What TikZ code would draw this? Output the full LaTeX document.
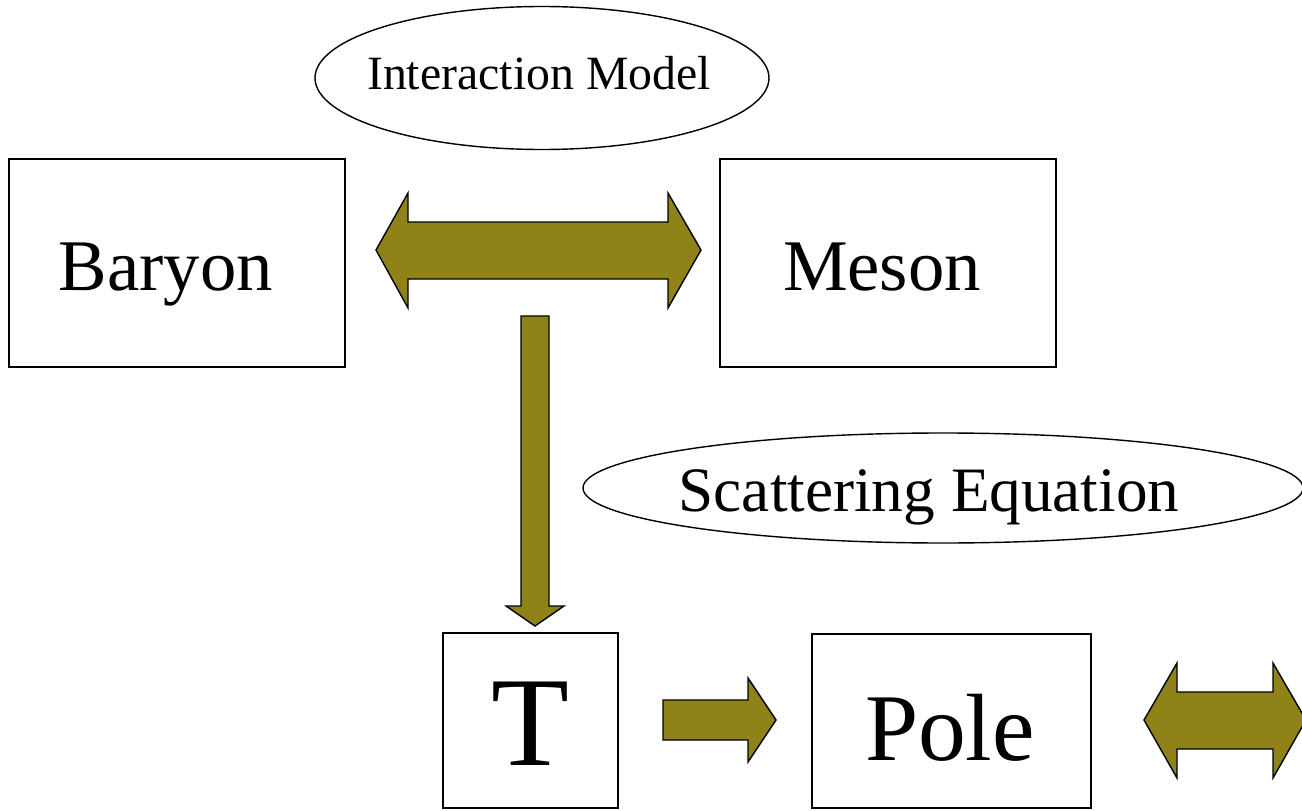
\documentclass[tikz,border=0pt]{standalone}
\usepackage{fontspec}
\setmainfont{Liberation Serif}
\usetikzlibrary{shapes.geometric}
\definecolor{olivefill}{RGB}{143,130,24}
\tikzset{
  box/.style={draw=black, line width=0.8pt, fill=white, inner sep=0pt},
  oval/.style={draw=black, line width=0.8pt, ellipse, inner sep=0pt},
  blockarrow/.style={fill=olivefill, draw=black, line width=0.8pt, line join=miter},
  lbl/.style={anchor=base, inner sep=0pt}
}
\begin{document}
\begin{tikzpicture}[x=0.02cm, y=-0.02cm]
  \useasboundingbox (0,0) rectangle (1302,811);
  \clip (0,0) rectangle (1302,811);

  % ellipses carrying the process labels
  \node[oval, minimum width=454*0.02cm, minimum height=143*0.02cm] (model) at (542,78) {};
  \node[lbl, font=\fontsize{27.2pt}{30pt}\selectfont] (modeltext) at (539,90) {Interaction Model};

  \node[oval, minimum width=720*0.02cm, minimum height=110*0.02cm] (scat) at (943,488) {};
  \node[lbl, font=\fontsize{36pt}{40pt}\selectfont] (scattext) at (929,511) {Scattering Equation};

  % boxes
  \node[box, minimum width=336*0.02cm, minimum height=208*0.02cm] (baryon) at (177,263) {};
  \node[lbl, font=\fontsize{41.4pt}{46pt}\selectfont] (baryontext) at (166,290) {Baryon};

  \node[box, minimum width=336*0.02cm, minimum height=208*0.02cm] (meson) at (888,263) {};
  \node[lbl, font=\fontsize{41.4pt}{46pt}\selectfont] (mesontext) at (882,290) {Meson};

  \node[box, minimum width=175*0.02cm, minimum height=175*0.02cm] (T) at (530.5,720.5) {};
  \node[lbl, font=\fontsize{72.6pt}{80pt}\selectfont] (Ttext) at (530,765) {T};

  \node[box, minimum width=279*0.02cm, minimum height=174*0.02cm] (pole) at (951.5,721) {};
  \node[lbl, font=\fontsize{54.4pt}{60pt}\selectfont] (poletext) at (950,760) {Pole};

  % block arrows
  % Baryon <-> Meson
  \draw[blockarrow] (376,250) -- (408,193) -- (408,222) -- (668,222) -- (668,193)
    -- (701,250) -- (668,308) -- (668,279) -- (408,279) -- (408,308) -- cycle;
  % down to T
  \draw[blockarrow] (521,316) -- (549,316) -- (549,606) -- (564,606) -- (535,626)
    -- (506,606) -- (521,606) -- cycle;
  % T -> Pole
  \draw[blockarrow] (663,700) -- (748,700) -- (748,678) -- (776,720) -- (748,762)
    -- (748,740) -- (663,740) -- cycle;
  % Pole <-> beyond the right edge
  \draw[blockarrow] (1144,720) -- (1177,663) -- (1177,692) -- (1273,692) -- (1273,663)
    -- (1306,720) -- (1273,778) -- (1273,749) -- (1177,749) -- (1177,778) -- cycle;
\end{tikzpicture}
\end{document}
